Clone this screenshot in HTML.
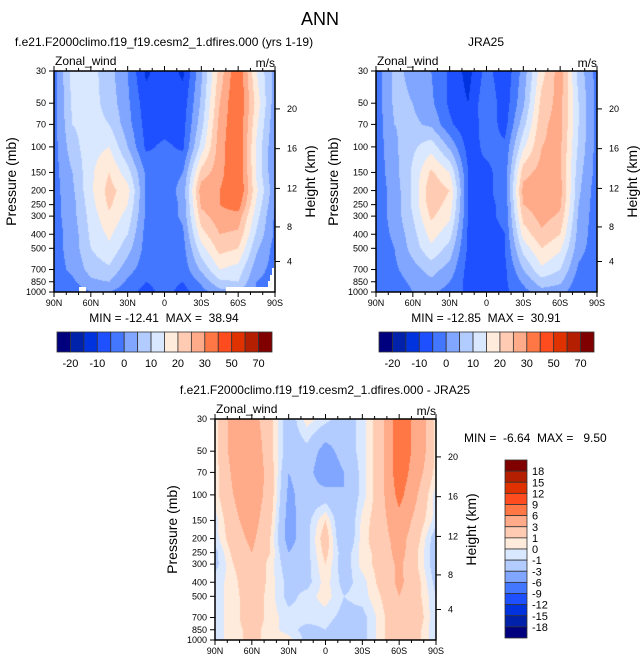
<!DOCTYPE html>
<html><head><meta charset="utf-8">
<style>
html,body{margin:0;padding:0;background:#fff;}
body{width:641px;height:664px;position:relative;overflow:hidden;font-family:"Liberation Sans",Arial,sans-serif;}
canvas{position:absolute;}
svg{position:absolute;left:0;top:0;}
</style></head>
<body>
<canvas id="c1" width="221" height="221" style="left:54px;top:71px"></canvas>
<canvas id="c2" width="221" height="221" style="left:376px;top:71px"></canvas>
<canvas id="c3" width="221" height="221" style="left:215px;top:419px"></canvas>
<svg id="s" width="641" height="664"></svg>
<script>
const lats = ["90N","75N","60N","45N","30N","15N","0","15S","30S","45S","60S","75S","90S"];
const pLevels = [30,50,70,100,150,200,250,300,400,500,700,850,1000];
const pTicks = [30,50,70,100,150,200,250,300,400,500,700,850,1000];
const xTickLabels = ["90N","60N","30N","0","30S","60S","90S"];
const heightTicks = [20,16,12,8,4];
const absLevels = [-20,-15,-10,-5,0,5,10,15,20,25,30,40,50,60,70];
const absLabels = ["-20","-10","0","10","20","30","50","70"];
const diffLevels = [-18,-15,-12,-9,-6,-3,-1,0,1,3,6,9,12,15,18];
const diffLabels = ["18","15","12","9","6","3","1","0","-1","-3","-6","-9","-12","-15","-18"];
const colors = ["#00007f","#0022aa","#0033dd","#1e50ff","#4477ff","#80a6ff","#b3ccff","#d9e8ff","#ffebdb","#ffccb3","#ffaa88","#ff7744","#ff4c1f","#e03200","#b31f00","#800000"];

const modelU = [
 [-2,12,12,7,0,-11,-7,-11,4,22,35,15,3],
 [-2,11,12,8,1,-8,-8,-8,6,25,36,18,2],
 [-2,10,12,10,2,-7,-7,-7,8,27,35,16,1],
 [-2,8,13,15,5,-6,-4,-6,12,28,35,14,0],
 [-2,5,14,20,12,-1,-3,0,22,28,36,14,0],
 [-2,4,14,22,17,-1,-3,2,28,30,36,16,1],
 [-2,3,13,21,15,-1,-3,1,26,30,33,14,0],
 [-2,3,12,19,13,-1,-3,1,23,28,28,12,-1],
 [-2,2,11,16,10,-2,-3,-1,18,25,24,9,-1],
 [-2,2,10,14,7,-2,-3,-2,13,22,20,6,-2],
 [-2,1,7,9,2,-3,-3,-3,6,15,13,2,-2],
 [-3,-1,4,5,-1,-5,-3,-5,1,9,10,0,-2],
 [-4,-3,0,0,-3,-7,-3,-7,-2,3,5,-1,-3]];
const jraU = [
 [-3,6,4,0,-6,-12,-3,-9,2,18,28,8,-2],
 [-3,6,5,1,-6,-10,-1,-8,4,22,27,10,-2],
 [-3,5,6,4,-4,-9,-2,-7,8,24,27,10,-2],
 [-3,4,9,13,4,-7,-4,-4,14,25,26,9,-2],
 [-3,3,11,21,15,-5,-6,-3,23,27,26,7,-2],
 [-3,2,11,24,20,-5,-6,-3,27,28,27,6,-3],
 [-3,2,11,23,18,-5,-6,-4,25,28,26,5,-3],
 [-3,2,10,21,16,-5,-6,-4,22,27,24,4,-3],
 [-3,1,8,17,12,-6,-7,-5,17,24,20,3,-3],
 [-3,0,7,14,8,-6,-7,-5,12,20,16,2,-3],
 [-3,-1,3,7,3,-7,-7,-6,5,14,10,-1,-4],
 [-4,-2,1,4,0,-7,-7,-6,1,8,6,-3,-4],
 [-4,-3,0,1,-2,-6,-7,-6,-2,3,2,-4,-4]];
const diffU = [
 [0.5,4,4,1.5,-2,0.5,-0.5,-2,-0.5,2,8,5,0.5],
 [0.5,4,5,1.5,-2,-1.5,-4,-2,-0.5,2,8,5,0.5],
 [0.3,3.5,5,2,-3,-2,-5,-3,-0.5,2,8,4,0.5],
 [0.5,3,4.5,2,-3.5,-2,-2,-3,-0.5,2,7,3,-0.5],
 [-0.5,2.5,4,1.5,-4,-1.5,1,-3,0.3,2,5,2,-0.5],
 [-0.5,2,3.5,1,-4,-1.5,2,-3,0.5,2,4,1.5,-2],
 [-1.5,1.5,3,1,-3,-1.5,1.5,-2,0.5,1.5,4,1,-2],
 [-1.5,1,2.5,0.5,-2,-1.5,1,-2,0.5,1.5,3.5,1,-2],
 [-0.5,0.5,2.5,0.5,-1.5,-1.5,0.5,-1.5,-0.5,1.5,3.5,1.5,-1.5],
 [-0.5,0.5,2,0.5,-1.5,-0.5,0.5,-1,-0.5,1,3,1.5,-1],
 [-0.5,0.5,2,0.5,-0.5,-0.5,-0.5,-1.5,-1.5,0.5,2.5,2,-1],
 [-0.5,0.5,1.5,0.5,-0.5,-1.5,-1,-2,-1.5,0.5,2.5,1.5,-1],
 [-0.5,0.5,1.5,0.5,0.5,-1.5,-1.5,-2,-1.5,0.5,3,1.5,-1]];
const stats = ["MIN = -12.41  MAX =  38.94","MIN = -12.85  MAX =  30.91","MIN =  -6.64  MAX =   9.50"];

const LN = Math.log(1000/30);
function yFrac(p){return Math.log(p/30)/LN;}
function pFromFrac(f){return 30*Math.exp(f*LN);}
function pFromZ(z){return z<11?1013.25*Math.pow(1-z*0.0225577,5.25588):226.32*Math.exp(-(z-11)/6.3416);}
function colorIdx(v,lv){let i=0;while(i<lv.length&&v>=lv[i])i++;return i;}
function hex(h){return [parseInt(h.substr(1,2),16),parseInt(h.substr(3,2),16),parseInt(h.substr(5,2),16)];}
const rgb = colors.map(hex);
const logP = pLevels.map(p=>Math.log(p));

function drawField(id,grid,lv){
  const cv=document.getElementById(id),ctx=cv.getContext('2d');
  const W=cv.width,H=cv.height,img=ctx.createImageData(W,H);
  for(let j=0;j<H;j++){
    const lp=Math.log(pFromFrac((j+0.5)/H));
    let r=0;while(r<logP.length-2&&lp>logP[r+1])r++;
    let ty=(lp-logP[r])/(logP[r+1]-logP[r]);ty=Math.max(0,Math.min(1,ty));
    for(let i=0;i<W;i++){
      const fx=(i+0.5)/W*(lats.length-1);
      let c=Math.min(lats.length-2,Math.floor(fx)),tx=fx-c;
      const v=(grid[r][c]*(1-tx)+grid[r][c+1]*tx)*(1-ty)+(grid[r+1][c]*(1-tx)+grid[r+1][c+1]*tx)*ty;
      const col=rgb[colorIdx(v,lv)],k=(j*W+i)*4;
      img.data[k]=col[0];img.data[k+1]=col[1];img.data[k+2]=col[2];img.data[k+3]=255;
    }
  }
  ctx.putImageData(img,0,0);
}
drawField('c1',modelU,absLevels);
drawField('c2',jraU,absLevels);
drawField('c3',diffU,diffLevels);

const S=document.getElementById('s'),NS="http://www.w3.org/2000/svg";
function el(tag,attrs,parent){const e=document.createElementNS(NS,tag);for(const k in attrs)e.setAttribute(k,attrs[k]);(parent||S).appendChild(e);return e;}
function txt(x,y,s,size,anchor,parent,extra){const t=el('text',Object.assign({x:x,y:y,'font-size':size,'text-anchor':anchor||'middle','font-family':'Liberation Sans, Arial, sans-serif',fill:'#000'},extra||{}),parent);t.textContent=s;return t;}

const title=txt(320,25,"ANN",18);



const mask=el('polygon',{points:"226,287 268,287 268,281 270,281 270,275 272,275 272,268 274,268 274,260 275,260 275,292 226,292",fill:'#fff'});


const mask2=el('rect',{x:79,y:287,width:7,height:5,fill:'#fff'});



function panel(name,x0,y0,sub,subX,statX,statY,statAnchor){
  const W=221,H=221;
  const g=el('g',{});
  
  
  const st=txt(subX,y0-25,sub,12,'middle',g);
  
  
  const lt=txt(x0+1,y0-6,"Zonal_wind",12,'start',g);
  
  
  const ut=txt(x0+W,y0-4,"m/s",12,'end',g);
  
  
  const fr=el('rect',{x:x0,y:y0,width:W,height:H,fill:'none',stroke:'#000','stroke-width':1.5},g);
  
  
  pTicks.forEach(p=>{
    const y=y0+yFrac(p)*H;
    el('line',{x1:x0-5,x2:x0,y1:y,y2:y,stroke:'#000','stroke-width':1},g);
    const t=txt(x0-8,y+3,String(p),9,'end',g);
    
    
  });
  for(let k=0;k<=18;k++){
    const x=x0+k/18*W,len=(k%3==0)?5:3;
    el('line',{x1:x,x2:x,y1:y0+H,y2:y0+H+len,stroke:'#000','stroke-width':1},g);
    el('line',{x1:x,x2:x,y1:y0,y2:y0-len,stroke:'#000','stroke-width':1},g);
  }
  xTickLabels.forEach((s,k)=>{
    const t=txt(x0+k/6*W,y0+H+14,s,9,'middle',g);
    
    
  });
  heightTicks.forEach(z=>{
    const y=y0+yFrac(pFromZ(z))*H;
    el('line',{x1:x0+W,x2:x0+W+5,y1:y,y2:y,stroke:'#000','stroke-width':1},g);
    const t=txt(x0+W+12,y+3,String(z),9,'start',g);
    
    
  });
  const yl=txt(0,0,"Pressure (mb)",14,'middle',g,{transform:'translate('+(x0-38)+','+(y0+H/2)+') rotate(-90)'});
  
  
  const yr=txt(0,0,"Height (km)",14,'middle',g,{transform:'translate('+(x0+W+40)+','+(y0+H/2)+') rotate(-90)'});
  
  
  const mm=txt(statX,statY,stats[name=='model'?0:name=='jra25'?1:2],12,statAnchor,g);
  mm.style.whiteSpace='pre';
  
  
}
panel('model',54,71,"f.e21.F2000climo.f19_f19.cesm2_1.dfires.000 (yrs 1-19)",164,164,322,'middle');
panel('jra25',376,71,"JRA25",486,486,322,'middle');
panel('difference',215,419,"f.e21.F2000climo.f19_f19.cesm2_1.dfires.000 - JRA25",325,464,442,'start');

function hbar(name,x0,y0){
  const g=el('g',{});
  
  
  const bw=215/16;
  colors.forEach((c,i)=>{
    const r=el('rect',{x:x0+i*bw,y:y0,width:bw,height:20,fill:c,stroke:'#333','stroke-width':0.8},g);
    
    
  });
  absLabels.forEach((s,k)=>{
    const t=txt(x0+(1+2*k)*bw,y0+35,s,11,'middle',g);
    
    
  });
}
hbar('model-colorbar',57,332);
hbar('jra25-colorbar',379,332);

(function(){
  const g=el('g',{});
  
  
  const x0=505,y0=460,bh=178/16;
  colors.slice().reverse().forEach((c,i)=>{
    const r=el('rect',{x:x0,y:y0+i*bh,width:22,height:bh,fill:c,stroke:'#333','stroke-width':0.8},g);
    
    
  });
  diffLabels.forEach((s,k)=>{
    const t=txt(532,y0+(k+1)*bh+4,s,11,'start',g);
    
    
  });
})();
</script>
</body></html>
